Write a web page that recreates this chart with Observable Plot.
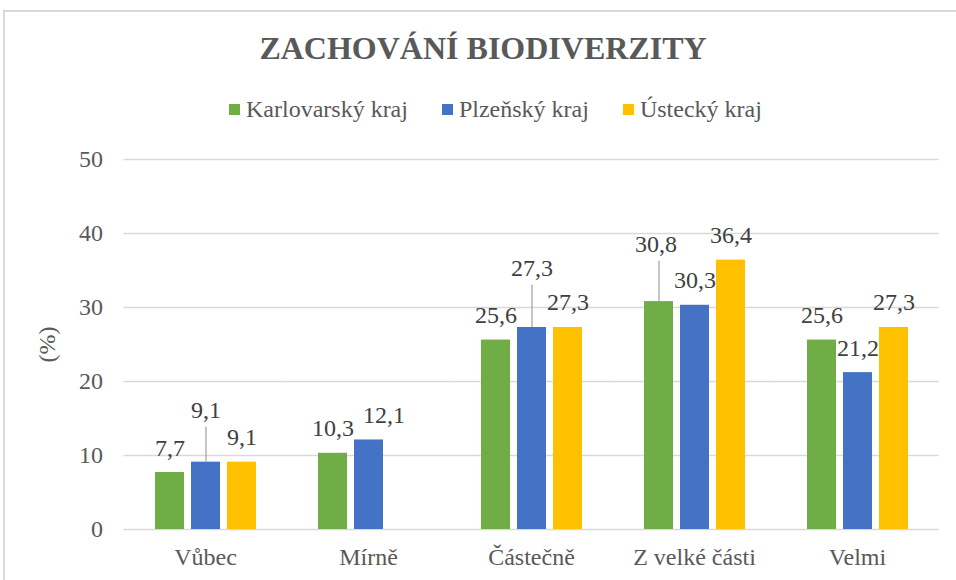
<!DOCTYPE html>
<html>
<head>
<meta charset="utf-8">
<script src="https://cdn.jsdelivr.net/npm/d3@7"></script>
<script src="https://cdn.jsdelivr.net/npm/@observablehq/plot@0.6"></script>
<style>
  body { margin: 0; background: #fff; }
  #wrap { position: relative; width: 956px; height: 580px; overflow: hidden; background: #fff;
          font-family: "Liberation Serif", Tinos, "DejaVu Serif", serif; }
  #border { position: absolute; left: 3px; top: 10px; width: 990px; height: 620px;
            border: 2px solid #d9d9d9; box-sizing: border-box; }
  #title { position: absolute; left: 10px; width: 946px; top: 32px; text-align: center;
           font-size: 32px; line-height: 32px; font-weight: bold; color: #595959; }
  #legend { position: absolute; left: 229px; top: 97px; display: flex; align-items: center;
            font-size: 24px; line-height: 24px; color: #595959; }
  .item { display: flex; align-items: center; margin-right: 34px; }
  .sw { width: 11px; height: 11px; margin-right: 6px; }
  #chart { position: absolute; left: 0; top: 140px; }
</style>
</head>
<body>
<div id="wrap">
  <div id="border"></div>
  <div id="title">ZACHOVÁNÍ BIODIVERZITY</div>
  <div id="legend"></div>
  <div id="chart"></div>
</div>
<script>
const categories = ["Vůbec", "Mírně", "Částečně", "Z velké části", "Velmi"];
const series = ["Karlovarský kraj", "Plzeňský kraj", "Ústecký kraj"];
const karlovarsky = [7.7, 10.3, 25.6, 30.8, 25.6];
const plzensky = [9.1, 12.1, 27.3, 30.3, 21.2];
const ustecky = [9.1, null, 27.3, 36.4, 27.3];
const yTicks = [0, 10, 20, 30, 40, 50];
const colors = ["#70ad47", "#4472c4", "#ffc000"];

// layout nudges for the few labels moved away from their bars (with leader lines)
const labelLift = {"Vůbec|Plzeňský kraj": 3.65, "Částečně|Plzeňský kraj": 4.6, "Z velké části|Karlovarský kraj": 4.35};
const labelShift = {"Mírně|Plzeňský kraj": 15, "Z velké části|Karlovarský kraj": -3};

const seriesValues = [karlovarsky, plzensky, ustecky];
const rows = [];
categories.forEach((c, i) => {
  seriesValues.forEach((arr, j) => {
    if (arr[i] != null) rows.push({category: c, series: series[j], value: arr[i], key: c + "|" + series[j]});
  });
});
const fmt = v => v.toFixed(1).replace(".", ",");
const lift = d => labelLift[d.key] || 0;

// legend
const legend = document.getElementById("legend");
series.forEach((s, j) => {
  const it = document.createElement("div");
  it.className = "item";
  const sw = document.createElement("div");
  sw.className = "sw";
  sw.style.background = colors[j];
  const t = document.createElement("span");
  t.textContent = s;
  it.appendChild(sw); it.appendChild(t);
  legend.appendChild(it);
});

const textOpts = {fx: "category", x: "series", y: d => d.value + lift(d), text: d => fmt(d.value),
  lineAnchor: "bottom", dy: -17, fill: "#404040", fontSize: 24};

const plain = rows.filter(d => !(d.key in labelShift));
const shifted = rows.filter(d => d.key in labelShift);

const chart = Plot.plot({
  width: 956,
  height: 440,
  marginLeft: 124,
  marginRight: 17,
  marginTop: 19,
  marginBottom: 51,
  style: {fontFamily: "'Liberation Serif', Tinos, 'DejaVu Serif', serif", fontSize: "24px", color: "#595959", background: "transparent"},
  fx: {domain: categories, paddingInner: 0.374, paddingOuter: 0.187, label: null, axis: "bottom", tickSize: 0, tickPadding: 18},
  x: {domain: series, paddingInner: 0.205, paddingOuter: 0, axis: null},
  y: {domain: [0, 50], ticks: yTicks, tickSize: 0, tickPadding: 51.5, label: "(%)", labelAnchor: "center", labelOffset: 117, labelArrow: "none"},
  color: {domain: series, range: colors},
  marks: [
    Plot.ruleY(yTicks, {stroke: "#d9d9d9", strokeWidth: 1.3, insetLeft: -30.5, insetRight: -30.5}),
    Plot.barY(rows, {fx: "category", x: "series", y: "value", fill: "series"}),
    Plot.ruleX(rows.filter(d => labelLift[d.key]), {fx: "category", x: "series", y1: "value",
      y2: d => d.value + lift(d) + 1.1, stroke: "#a6a6a6", strokeWidth: 1.3}),
    Plot.text(plain, textOpts),
    ...shifted.map(d => Plot.text([d], {...textOpts, dx: labelShift[d.key]}))
  ]
});
document.getElementById("chart").appendChild(chart);
</script>
</body>
</html>
